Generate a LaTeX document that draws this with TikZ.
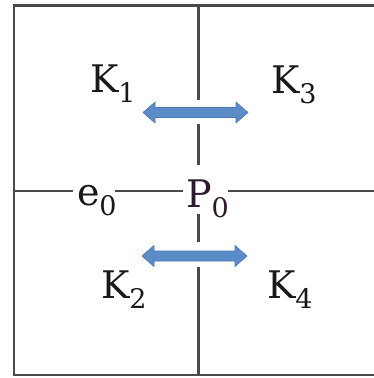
\documentclass[tikz,border=0pt]{standalone}
\usepackage{tikz}
\usepackage{fontspec}
\setmainfont{DejaVu Serif}
\definecolor{gridline}{HTML}{4A4A4A}
\definecolor{arrowfill}{HTML}{5B8CC8}
\definecolor{arrowedge}{HTML}{4A78B2}
\definecolor{ptext}{HTML}{2E1A2E}
\newcommand\sublab[2]{#1\raisebox{-10pt}{\fontsize{27}{27}\selectfont #2}}
\tikzset{
  gridln/.style={draw=gridline, line width=2.2pt},
  lab/.style={anchor=base west, inner sep=0pt, outer sep=0pt, font=\fontsize{38}{42}\selectfont, text=black!90},
  dblarrow/.style={fill=arrowfill, draw=arrowedge, line width=0.6pt, line join=round}
}
\newcommand\dblarr[3]{% x1, x2, y
  \path[dblarrow] (#1,#3) -- ++(12,-10.5) -- ++(0,5.5) -- (#2-12,#3-5) -- ++(0,-5.5) -- (#2,#3)
    -- (#2-12,#3+10.5) -- ++(0,-5.5) -- (#1+12,#3+5) -- ++(0,5.5) -- cycle;}
\begin{document}
\begin{tikzpicture}[x=1pt,y=-1pt]
\useasboundingbox (0,0) rectangle (374,378);
\fill[white] (0,0) rectangle (374,378);
% frame (no right edge)
\coordinate (TL) at (14,5.5);
\coordinate (TR) at (374,5.5);
\coordinate (BL) at (14,375);
\coordinate (BR) at (374,375);
\draw[gridln] (TR) -- (TL) -- (BL) -- (BR);
% horizontal middle line with gaps
\coordinate (h0) at (14,191);
\coordinate (h1) at (73,191);
\coordinate (h2) at (115,191);
\coordinate (h3) at (183,191);
\coordinate (h4) at (228,191);
\coordinate (h5) at (374,191);
\draw[gridln] (h0) -- (h1) (h2) -- (h3) (h4) -- (h5);
% vertical middle line with gaps
\coordinate (v0) at (198.5,5.5);
\coordinate (v1) at (198.5,100);
\coordinate (v2) at (198.5,124);
\coordinate (v3) at (198.5,165);
\coordinate (v4) at (198.5,214);
\coordinate (v5) at (198.5,242);
\coordinate (v6) at (198.5,267);
\coordinate (v7) at (198.5,375);
\draw[gridln] (v0) -- (v1) (v2) -- (v3) (v4) -- (v5) (v6) -- (v7);
% arrows
\dblarr{143}{248}{112.5}
\dblarr{142}{247}{256}
% labels
\node[lab] (K1) at (90,92) {\sublab{K}{1}};
\node[lab] (K3) at (271,93) {\sublab{K}{3}};
\node[lab] (K2) at (101,298) {\sublab{K}{2}};
\node[lab] (K4) at (267,298) {\sublab{K}{4}};
\node[lab] (e0) at (77,205) {\sublab{e}{0}};
\node[lab, text=ptext] (P0) at (186,207) {\sublab{P}{0}};
\end{tikzpicture}
\end{document}
